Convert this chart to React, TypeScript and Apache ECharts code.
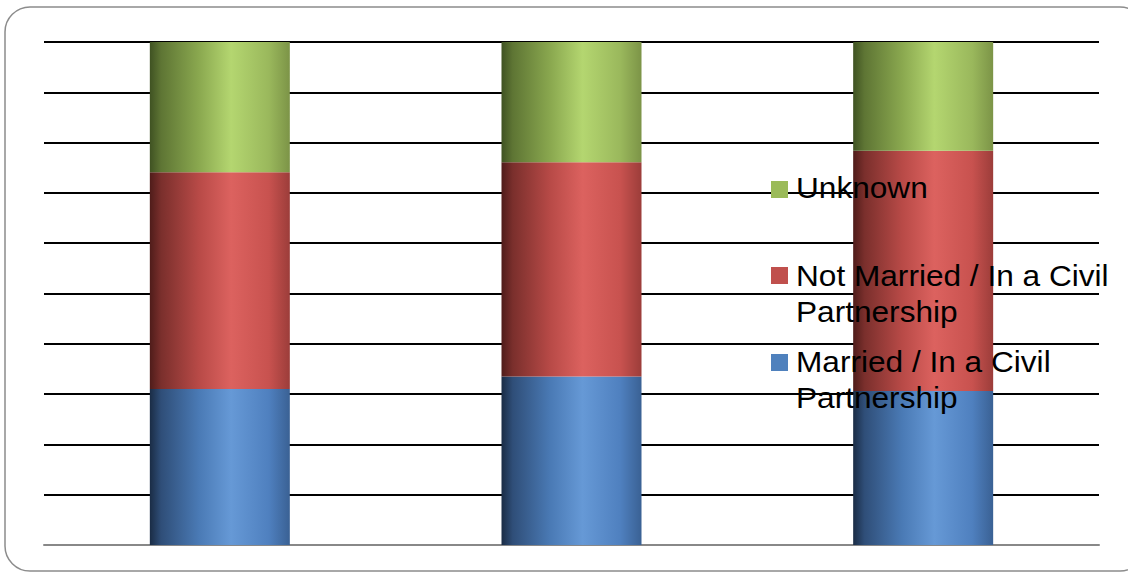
import React, { useEffect, useRef } from "react";
import * as echarts from "echarts";

const categories = ["Group 1", "Group 2", "Group 3"];
const marriedValues = [31.0, 33.5, 30.6];
const notMarriedValues = [43.1, 42.6, 47.8];
const unknownValues = [25.9, 23.9, 21.6];
const seriesNames = [
  "Married / In a Civil Partnership",
  "Not Married / In a Civil Partnership",
  "Unknown",
];
const legendLines = [
  ["Unknown"],
  ["Not Married / In a Civil", "Partnership"],
  ["Married / In a Civil", "Partnership"],
];

const grad = (stops: string[]) => ({
  type: "linear",
  x: 0,
  y: 0,
  x2: 1,
  y2: 0,
  colorStops: [0, 0.08, 0.35, 0.58, 0.85, 1].map((o, i) => ({ offset: o, color: stops[i] })),
});

const greenGrad = grad(["#3f5222", "#5e7534", "#8aa84f", "#b4d670", "#9ab85c", "#7c9447"]);
const redGrad = grad(["#4f1c1a", "#7a2f2c", "#b84a47", "#dc625f", "#c8524f", "#9c3d3a"]);
const blueGrad = grad(["#1a2c45", "#2f4e78", "#4a7ab5", "#6699d6", "#4f80bf", "#3a6194"]);

export default function App() {
  const ref = useRef<HTMLDivElement>(null);
  useEffect(() => {
    if (!ref.current) return;
    const chart = echarts.init(ref.current, undefined, { renderer: "svg" });
    const legendColors = ["#9bbb59", "#c0504d", "#4f81bd"];
    const markerY = [181, 267, 354];
    const textTop = [169.5, 257.5, 343.7];
    const legendGraphics: any[] = [];
    legendLines.forEach((lines, i) => {
      legendGraphics.push({
        type: "rect",
        shape: { x: 771, y: markerY[i], width: 17, height: 17 },
        style: { fill: legendColors[i] },
        z: 100,
      });
      legendGraphics.push({
        type: "text",
        x: 796,
        y: textTop[i],
        scaleX: 1.09,
        z: 100,
        style: {
          text: lines.join("\n"),
          fontSize: 29,
          fontFamily: "Liberation Sans, Arial, sans-serif",
          fill: "#000",
          lineHeight: 36,
          verticalAlign: "top",
          align: "left",
        },
      });
    });
    chart.setOption({
      animation: false,
      backgroundColor: "#fff",
      grid: { left: 44, right: 29, top: 42, bottom: 28, containLabel: false },
      xAxis: {
        type: "category",
        data: categories,
        axisLine: { show: true, lineStyle: { color: "#888", width: 2 } },
        axisTick: { show: false },
        axisLabel: { show: false },
      },
      yAxis: {
        type: "value",
        min: 0,
        max: 100,
        interval: 10,
        axisLine: { show: false },
        axisTick: { show: false },
        axisLabel: { show: false },
        splitLine: { lineStyle: { color: "#000", width: 2 } },
      },
      series: [
        { name: seriesNames[0], type: "bar", stack: "total", barWidth: 140, data: marriedValues, itemStyle: { color: blueGrad } },
        { name: seriesNames[1], type: "bar", stack: "total", barWidth: 140, data: notMarriedValues, itemStyle: { color: redGrad } },
        { name: seriesNames[2], type: "bar", stack: "total", barWidth: 140, data: unknownValues, itemStyle: { color: greenGrad } },
      ],
      graphic: [
        {
          type: "rect",
          shape: { x: 5, y: 7, width: 1140, height: 564, r: 25 },
          style: { fill: "none", stroke: "#8c8c8c", lineWidth: 1.5 },
          z: 0,
        },
        ...legendGraphics,
      ],
    });
    return () => chart.dispose();
  }, []);
  return (
    <div
      ref={ref}
      style={{ position: "absolute", left: 0, top: 0, width: 1128, height: 573 }}
    />
  );
}
